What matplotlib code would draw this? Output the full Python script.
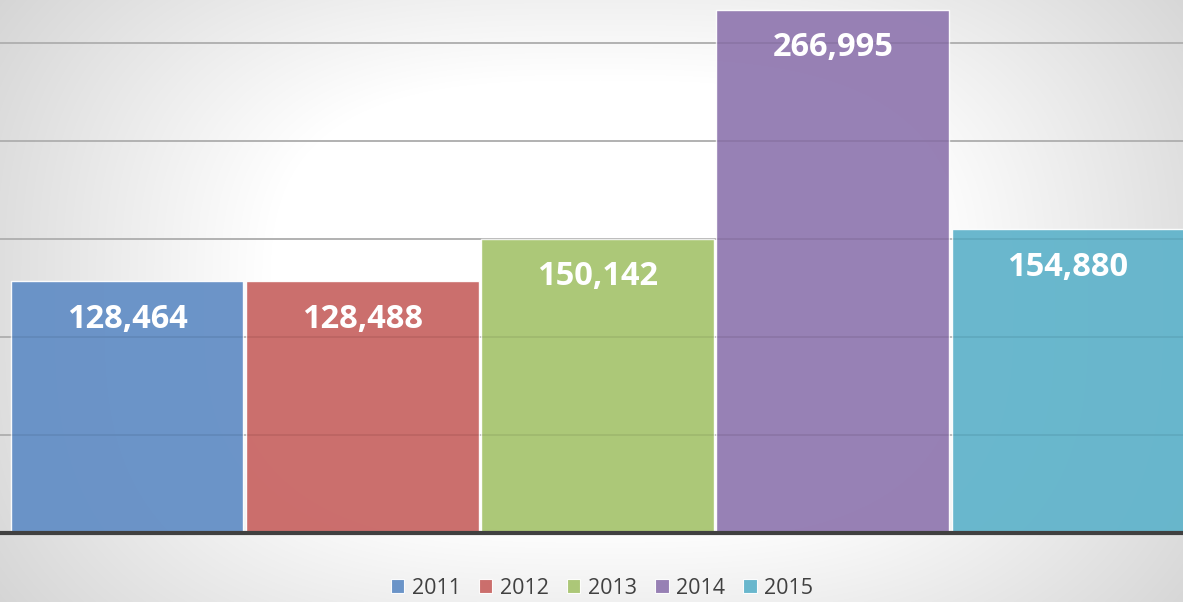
import numpy as np
import matplotlib
matplotlib.use("Agg")
import matplotlib.pyplot as plt
from matplotlib.patches import Patch

years = ["2011", "2012", "2013", "2014", "2015"]
values = [128464, 128488, 150142, 266995, 154880]
colors = ["#648fc6", "#c96765", "#a8c571", "#927ab1", "#62b4cb"]
grid_ticks = [50000, 100000, 150000, 200000, 250000]

W, H = 1183, 602
fig = plt.figure(figsize=(W / 100, H / 100), dpi=100)

# background gradient
bg = fig.add_axes([0, 0, 1, 1], zorder=-10)
yy, xx = np.mgrid[0:H, 0:W]
cx, cy = 600, 300
p = 3.0
r = ((np.abs(xx - cx) / 600.0) ** p + (np.abs(yy - cy) / 400.0) ** p) ** (1 / p)
g = 1.0 - 0.17 * np.clip((r - 0.55) / 0.6, 0, 1)
img = np.dstack([g, g, g])
bg.imshow(img, aspect="auto", extent=[0, W, H, 0])
bg.set_axis_off()

# main axes
base_y = 533
ax = fig.add_axes([0, (H - base_y) / H, 1, base_y / H])
ax.patch.set_alpha(0)
pitch = 235.25
c0 = 127.0
ax.set_xlim(-c0 / pitch, (W - c0) / pitch)
ax.set_ylim(0, base_y * 50000 / 98.0)

x = np.arange(len(years))
bars = ax.bar(x, values, width=0.99, color=colors, alpha=0.95,
              edgecolor=(1, 1, 1, 0.35), linewidth=1.0, zorder=2)

for t in grid_ticks:
    ax.axhline(t, color="#bcbcbc", linewidth=1.4, zorder=1)
    ax.axhline(t, color="#000000", alpha=0.05, linewidth=1.4, zorder=3)

ax.axhline(0, color="#404040", linewidth=3.0, zorder=4, clip_on=False)

for xi, v in zip(x, values):
    ax.annotate(f"{v:,}", (xi, v), xytext=(0, -27.5), textcoords="offset points",
                ha="center", va="center", color="white", fontsize=23.5,
                fontweight="bold", family="Open Sans", zorder=5)

for s in ax.spines.values():
    s.set_visible(False)
ax.set_xticks([])
ax.set_yticks([])

handles = [Patch(facecolor=c, edgecolor=(1, 1, 1, 0.6), linewidth=0.8, alpha=0.95) for c in colors]
leg = fig.legend(handles, years, loc="center", bbox_to_anchor=(602 / W, 1 - 588 / H),
                 ncol=5, frameon=False, handlelength=0.62, handleheight=0.62,
                 handletextpad=0.35, columnspacing=0.85,
                 prop={"family": "Open Sans", "size": 15.5})
for t in leg.get_texts():
    t.set_color("#404040")

fig.savefig("out.png", dpi=100)
